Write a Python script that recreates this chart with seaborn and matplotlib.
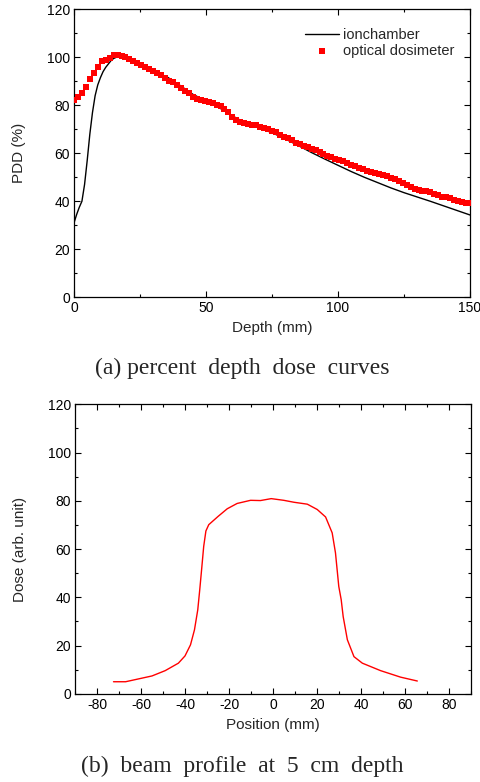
import numpy as np
import pandas as pd
import matplotlib
matplotlib.use("Agg")
import matplotlib.pyplot as plt
from matplotlib.ticker import MultipleLocator
import seaborn as sns

# ---------------- data ----------------
ion_depth = [0, 1, 2, 3, 4, 5, 6, 7, 8, 9, 10, 11, 12, 13, 14, 15, 16, 17, 18, 20,
             25, 30, 33, 35, 37, 40, 45, 50, 55, 60, 65, 70, 75, 80, 85, 90, 95,
             100, 105, 110, 115, 120, 125, 130, 135, 140, 145, 150]
ion_pdd = [31.0, 34.5, 37.5, 40.0, 47.0, 57.0, 68.0, 77.0, 84.0, 88.5, 91.5, 94.0,
           95.8, 97.2, 98.6, 99.5, 100.0, 100.3, 100.2, 99.5,
           97.3, 94.3, 92.5, 92.0, 90.6, 88.4, 84.6, 81.8, 79.0, 75.6, 72.6, 70.6,
           68.6, 66.0, 63.2, 60.3, 57.6,
           55.0, 52.4, 50.0, 47.8, 45.6, 43.6, 41.8, 40.0, 38.1, 36.2, 34.3]

opt_depth = [0, 1.5, 3, 4.5, 6, 7.5, 9, 10.5, 12, 13.5, 15, 16.5, 18, 19.5, 21, 22.5,
             24, 25.5, 27, 28.5, 30, 31.5, 33, 34.5, 36, 37.5, 39, 40.5, 42, 43.5,
             45, 46.5, 48, 49.5, 51, 52.5, 54, 55.5, 57, 58.5, 60, 61.5, 63, 64.5,
             66, 67.5, 69, 70.5, 72, 73.5, 75, 76.5, 78, 79.5, 81, 82.5, 84, 85.5,
             87, 88.5, 90, 91.5, 93, 94.5, 96, 97.5, 99, 100.5, 102, 103.5, 105,
             106.5, 108, 109.5, 111, 112.5, 114, 115.5, 117, 118.5, 120, 121.5, 123,
             124.5, 126, 127.5, 129, 130.5, 132, 133.5, 135, 136.5, 138, 139.5, 141,
             142.5, 144, 145.5, 147, 148.5, 150]
opt_pdd = [82.0, 83.5, 85.3, 87.5, 91.0, 93.3, 96.0, 98.3, 99.0, 99.6, 100.8, 100.9,
           100.6, 100.0, 99.2, 98.3, 97.5, 96.8, 96.0, 95.2, 94.2, 93.5, 92.6, 91.5,
           90.3, 89.5, 88.5, 87.2, 86.1, 85.2, 83.5, 82.6, 82.0, 81.7, 81.3, 80.9,
           80.3, 79.5, 78.6, 77.0, 75.2, 74.0, 73.2, 72.8, 72.4, 72.0, 71.6, 71.1,
           70.6, 70.2, 69.5, 68.7, 67.8, 67.0, 66.3, 65.4, 64.4, 63.7, 63.0, 62.5,
           61.7, 61.2, 60.7, 59.9, 58.9, 58.3, 57.8, 57.1, 56.6, 56.1, 55.3, 54.6,
           53.9, 53.4, 52.8, 52.2, 51.7, 51.4, 51.0, 50.6, 49.9, 49.1, 48.3, 47.7,
           46.9, 45.9, 45.2, 44.8, 44.5, 44.1, 43.7, 43.1, 42.5, 42.0, 41.6, 41.2,
           40.6, 40.0, 39.6, 39.3, 39.1]

prof_pos = [-72.5, -67, -60, -55, -49, -43, -40, -37.5, -35.7, -34.2, -33.3, -32.4,
            -31.5, -30.5, -29.2, -25, -20.8, -16.3, -10.2, -5.7, -0.8, 4.9, 9.5,
            15.6, 20.1, 23.9, 26.9, 28.4, 29.9, 31.0, 31.9, 33.8, 36.8, 40.6, 48.9,
            58, 65.6]
prof_dose = [5.0, 5.0, 6.4, 7.4, 9.6, 12.7, 15.7, 20.3, 26.5, 34.8, 43.1, 52.0,
             61.1, 67.5, 70.1, 73.5, 76.7, 78.9, 80.2, 80.1, 80.9, 80.2, 79.4, 78.6,
             76.4, 73.3, 66.7, 58.4, 44.5, 39.0, 32.0, 22.4, 15.4, 12.7, 9.6, 6.9, 5.3]

top_xticks = [0, 50, 100, 150]
bot_xticks = [-80, -60, -40, -20, 0, 20, 40, 60, 80]
yticks = [0, 20, 40, 60, 80, 100, 120]

# ---------------- style ----------------
sns.set_style("ticks")
plt.rcParams["font.family"] = ["Liberation Sans", "DejaVu Sans"]
plt.rcParams.update({
    "axes.unicode_minus": False,
    "xtick.direction": "in", "ytick.direction": "in",
    "xtick.top": True, "ytick.right": True,
    "xtick.major.size": 4.5, "ytick.major.size": 4.5,
    "xtick.minor.size": 2.5, "ytick.minor.size": 2.5,
    "xtick.major.width": 0.8, "ytick.major.width": 0.8,
    "xtick.minor.width": 0.8, "ytick.minor.width": 0.8,
    "axes.linewidth": 0.9, "axes.edgecolor": "black",
    "xtick.color": "black", "ytick.color": "black",
    "font.size": 10,
})

fig = plt.figure(figsize=(4.8, 7.82), dpi=100)
ax1 = fig.add_axes([74 / 480, (782 - 297.3) / 782, 396 / 480, 288 / 782])
ax2 = fig.add_axes([75 / 480, (782 - 693.8) / 782, 396 / 480, 289.5 / 782])

# top: PDD
sns.lineplot(x=ion_depth, y=ion_pdd, ax=ax1, color="black", lw=1.0,
             label="ionchamber")
sns.scatterplot(x=opt_depth, y=opt_pdd, ax=ax1, color="red", marker="s", s=15,
                linewidth=0, label="optical dosimeter", zorder=3)
ax1.set_xlim(0, 150)
ax1.set_ylim(0, 120)
ax1.set_xticks(top_xticks)
ax1.set_yticks(yticks)
ax1.xaxis.set_minor_locator(MultipleLocator(25))
ax1.yaxis.set_minor_locator(MultipleLocator(10))
ax1.set_xlabel("Depth (mm)", fontsize=11, labelpad=4)
ax1.set_ylabel("PDD (%)", fontsize=11, labelpad=15)
ax1.tick_params(labelsize=10, pad=3)
leg = ax1.legend(loc="upper right", bbox_to_anchor=(0.975, 0.955), frameon=False,
                 fontsize=10.5, handlelength=2.3, handletextpad=0.3,
                 labelspacing=0.15, markerscale=1.0, borderaxespad=0)

# bottom: profile
sns.lineplot(x=prof_pos, y=prof_dose, ax=ax2, color="red", lw=1.0)
ax2.set_xlim(-90, 90)
ax2.set_ylim(0, 120)
ax2.set_xticks(bot_xticks)
ax2.set_yticks(yticks)
ax2.xaxis.set_minor_locator(MultipleLocator(10))
ax2.yaxis.set_minor_locator(MultipleLocator(10))
ax2.set_xlabel("Position (mm)", fontsize=11, labelpad=4)
ax2.set_ylabel("Dose (arb. unit)", fontsize=11, labelpad=15)
ax2.tick_params(labelsize=10, pad=3)

serif = ["Liberation Serif", "DejaVu Serif"]
fig.text(242.5 / 480, 1 - 368 / 782, "(a) percent  depth  dose  curves",
         ha="center", va="center", fontsize=17, family=serif)
fig.text(242.5 / 480, 1 - 766 / 782, "(b)  beam  profile  at  5  cm  depth",
         ha="center", va="center", fontsize=17, family=serif)

fig.savefig("out.png", dpi=100)
